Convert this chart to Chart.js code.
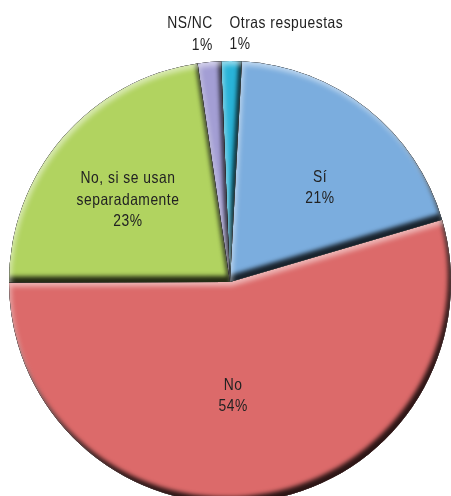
<!DOCTYPE html>
<html><head><meta charset="utf-8">
<script src="https://cdn.jsdelivr.net/npm/chart.js@4.4.1/dist/chart.umd.min.js"></script>
<style>
html,body{margin:0;padding:0;background:#fff;overflow:hidden;width:451px;height:496px}
#wrap{position:absolute;left:0;top:0;width:451px;height:503px}
</style></head><body>
<div id="wrap"><canvas id="c"></canvas></div>
<script>
// ---- data ----
const categories = ['Otras respuestas', 'Sí', 'No', 'No, si se usan\nseparadamente', 'NS/NC'];
const values = [1.5, 19.6, 54.5, 22.7, 1.7];
const percentLabels = ['1%', '21%', '54%', '23%', '1%'];
const colors = ['#29b3d8', '#7badde', '#dc6a6a', '#b1d360', '#a39ed4'];

// ---- label placement (layout only) ----
const placement = [
  {outside: true, align: 'left', dx: -2},
  {r: 0.594, shift: 4.9},
  {r: 0.509, shift: 6.6},
  {r: 0.596, shift: -1.5},
  {outside: true, align: 'right', dx: 3.5}
];

const bevel = {
  id: 'bevel',
  afterDatasetsDraw(chart) {
    const ctx = chart.ctx;
    const dpr = chart.currentDevicePixelRatio || 1;
    const meta = chart.getDatasetMeta(0);
    meta.data.forEach(arc => {
      const {x, y, startAngle, endAngle, outerRadius} =
        arc.getProps(['x', 'y', 'startAngle', 'endAngle', 'outerRadius'], true);
      const p = new Path2D();
      p.moveTo(x, y); p.arc(x, y, outerRadius, startAngle, endAngle); p.closePath();
      const inv = new Path2D();
      inv.rect(-3000, -3000, 7000, 7000);
      inv.addPath(p);
      ctx.save();
      ctx.clip(p);
      ctx.fillStyle = '#000';
      ctx.shadowColor = 'rgba(0,0,0,0.8)';
      ctx.shadowBlur = 4 * dpr;
      ctx.shadowOffsetX = -3 * dpr;
      ctx.shadowOffsetY = -6 * dpr;
      ctx.fill(inv, 'evenodd');
      ctx.shadowColor = 'rgba(255,255,255,0.5)';
      ctx.shadowBlur = 5 * dpr;
      ctx.shadowOffsetX = 2 * dpr;
      ctx.shadowOffsetY = 4 * dpr;
      ctx.fill(inv, 'evenodd');
      ctx.restore();
    });
  }
};

const sliceLabels = {
  id: 'sliceLabels',
  afterDraw(chart) {
    const ctx = chart.ctx;
    const meta = chart.getDatasetMeta(0);
    const fs = 16.5, lh = 21.5, cap = fs * 0.72, sx = 0.84;
    ctx.save();
    ctx.font = fs + 'px "Liberation Sans", Arial, sans-serif';
    try { ctx.letterSpacing = '0.6px'; } catch (e) {}
    ctx.fillStyle = '#222';
    ctx.textBaseline = 'alphabetic';
    const draw = (t, px, py, align) => {
      ctx.save();
      ctx.translate(px, py);
      ctx.scale(sx, 1);
      ctx.textAlign = align;
      ctx.fillText(t, 0, 0);
      ctx.restore();
    };
    meta.data.forEach((arc, i) => {
      const {x, y, startAngle, endAngle, outerRadius} =
        arc.getProps(['x', 'y', 'startAngle', 'endAngle', 'outerRadius'], true);
      const lines = categories[i].split('\n').concat([percentLabels[i]]);
      const pl = placement[i];
      const n = lines.length;
      if (pl.outside) {
        const a = (startAngle + endAngle) / 2;
        const px = x + Math.cos(a) * outerRadius + pl.dx;
        const py = y + Math.sin(a) * outerRadius;
        const lastBase = py - 12;
        lines.forEach((t, k) => draw(t, px, lastBase - (n - 1 - k) * lh, pl.align));
      } else {
        const a = (startAngle + endAngle) / 2 + pl.shift * Math.PI / 180;
        const px = x + Math.cos(a) * outerRadius * pl.r;
        const py = y + Math.sin(a) * outerRadius * pl.r;
        lines.forEach((t, k) => draw(t, px, py - (n - 1) * lh / 2 + k * lh + cap / 2, 'center'));
      }
    });
    ctx.restore();
  }
};

new Chart(document.getElementById('c'), {
  type: 'pie',
  data: {
    labels: categories,
    datasets: [{
      data: values,
      backgroundColor: colors,
      borderWidth: 0
    }]
  },
  options: {
    responsive: true,
    maintainAspectRatio: false,
    animation: false,
    rotation: -2.3,
    layout: {padding: {top: 61, left: 9, right: 0, bottom: 0}},
    plugins: {legend: {display: false}, tooltip: {enabled: false}}
  },
  plugins: [bevel, sliceLabels]
});
</script>
</body></html>
